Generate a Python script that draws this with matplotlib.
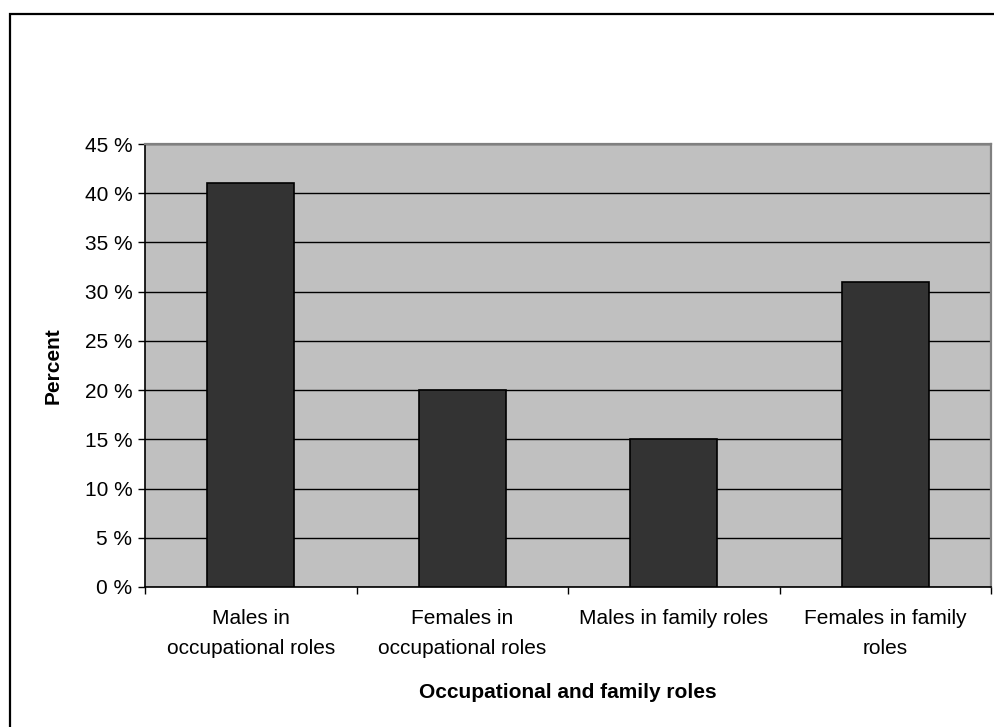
import numpy as np
import matplotlib.pyplot as plt
from matplotlib.patches import Rectangle

plt.rcParams['font.family'] = ['Liberation Sans', 'DejaVu Sans']

# data
categories = ["Males in\noccupational roles", "Females in\noccupational roles",
              "Males in family roles", "Females in family\nroles"]
percent = [41, 20, 15, 31]
y_ticks = [0, 5, 10, 15, 20, 25, 30, 35, 40, 45]

W, H = 994, 727
fig = plt.figure(figsize=(W / 100, H / 100), dpi=100)

# outer frame of the chart object (runs off right and bottom edge)
fig.patches.append(Rectangle((10 / W, -0.1), 1.1, 1 - 14 / H + 0.1,
                             transform=fig.transFigure, fill=False,
                             edgecolor='black', linewidth=1.6, zorder=0))

ax = fig.add_axes([145 / W, 1 - 587 / H, 846 / W, 443 / H])
ax.set_facecolor('#c0c0c0')

x = np.arange(len(categories))
ax.bar(x, percent, width=0.41, color='#333333', edgecolor='black',
       linewidth=1.2, zorder=3)

ax.set_xlim(-0.5, len(categories) - 0.5)
ax.set_ylim(0, 45)
ax.set_yticks(y_ticks)
ax.set_yticklabels([f"{v} %" for v in y_ticks], fontsize=15)
ax.yaxis.grid(True, color='black', linewidth=1.0, zorder=1)
ax.set_axisbelow(True)

# ticks at category boundaries, labels at centres
ax.set_xticks(np.arange(len(categories) + 1) - 0.5)
ax.set_xticklabels([])
ax.set_xticks(x, minor=True)
ax.set_xticklabels(categories, minor=True, fontsize=15, linespacing=1.7)
ax.tick_params(axis='x', which='minor', length=0, pad=16)
ax.tick_params(axis='both', which='major', direction='out', length=5,
               width=1.0, color='black')
ax.tick_params(axis='y', pad=4)

for side in ['top', 'right']:
    ax.spines[side].set_color('#808080')
    ax.spines[side].set_linewidth(1.6)
for side in ['left', 'bottom']:
    ax.spines[side].set_color('black')
    ax.spines[side].set_linewidth(1.2)

ax.set_xlabel("Occupational and family roles", fontsize=15,
              fontweight='bold', labelpad=18)
ax.set_ylabel("Percent", fontsize=15, fontweight='bold', labelpad=16)

fig.savefig("out.png", dpi=100)
